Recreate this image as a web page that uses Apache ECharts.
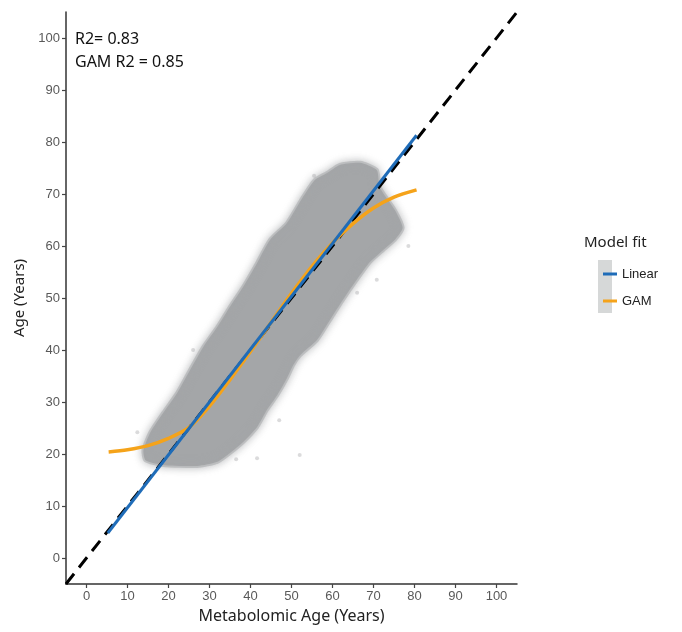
<!DOCTYPE html>
<html>
<head>
<meta charset="utf-8">
<script src="https://cdn.jsdelivr.net/npm/echarts@6/dist/echarts.min.js"></script>
<style>
  html, body { margin: 0; padding: 0; background: #ffffff; }
  #chart { width: 682px; height: 632px; }
</style>
</head>
<body>
<div id="chart"></div>
<script>
// tick labels on both axes
const tickValues = [0, 10, 20, 30, 40, 50, 60, 70, 80, 90, 100];

// outline of the dense point cloud (metabolomic age, age)
const cloudX = [58.6, 61.8, 66.7, 70.8, 71.5, 75.2, 77.1, 75.2, 72.3, 69.1, 65.9, 62.5, 59.4, 56.2, 52.1, 50.4,
  48.9, 46.5, 44.0, 41.6, 38.2, 35.0, 31.9, 27.0, 18.7, 14.4, 13.9, 15.6, 18.7, 22.1, 25.3, 28.5,
  31.9, 35.0, 38.2, 41.6, 44.8, 48.9, 52.8, 55.7];
const cloudY = [74.0, 75.6, 76.0, 74.6, 71.3, 66.9, 63.5, 61.2, 59.2, 56.9, 53.5, 49.6, 45.8, 41.9, 39.0, 37.1,
  34.6, 31.3, 28.5, 25.2, 22.3, 20.2, 18.5, 17.7, 17.9, 18.8, 20.8, 24.2, 27.9, 31.7, 36.2, 40.6,
  44.4, 48.3, 52.1, 56.7, 61.2, 64.4, 69.4, 72.7];

// a few stray points just outside the cloud
const strayX = [52.0, 41.6, 12.4, 70.8, 78.5, 47.0, 36.5, 26.0, 55.5, 66.0];
const strayY = [19.8, 19.2, 24.2, 53.5, 60.0, 26.5, 19.0, 40.0, 73.5, 51.0];

// fitted lines
const linearX = [5.2, 80.5];
const linearY = [4.8, 81.3];
const gamX = [5.4, 10, 15, 20, 25, 30, 35, 40, 45, 50, 55, 60, 65, 70, 75, 80.5];
const gamY = [20.4, 20.8, 21.6, 23.0, 25.1, 29.2, 34.3, 39.7, 45.3, 50.9, 56.1, 60.6, 64.3, 67.3, 69.4, 70.8];

// identity line
const refX = [-5, 105];
const refY = [-5, 105];

const zip = (xs, ys) => xs.map((x, i) => [x, ys[i]]);

const cloudColor = 'rgb(164,166,168)';

const chart = echarts.init(document.getElementById('chart'));

const axisCommon = {
  type: 'value',
  min: -5,
  max: 105,
  splitLine: { show: false },
  axisLine: { show: true, onZero: false, lineStyle: { color: '#333', width: 1.5 } },
  axisTick: { show: true, length: 4, customValues: tickValues, lineStyle: { color: '#444', width: 1.2 } },
  axisLabel: {
    customValues: tickValues,
    color: '#595959',
    fontSize: 13,
    fontFamily: 'Liberation Sans, Arial, sans-serif',
    margin: 6
  },
  nameLocation: 'middle',
  nameTextStyle: { color: '#222', fontSize: 16, fontFamily: 'Noto Sans, sans-serif' }
};

chart.setOption({
  animation: false,
  backgroundColor: '#ffffff',
  grid: { left: 66, right: 165, top: 12, bottom: 48 },
  xAxis: Object.assign({}, axisCommon, { name: 'Metabolomic Age (Years)', nameGap: 24 }),
  yAxis: Object.assign({}, axisCommon, { name: 'Age (Years)', nameGap: 36,
    nameTextStyle: { color: '#222', fontSize: 15, fontFamily: 'Noto Sans, sans-serif' } }),
  legend: {
    data: ['Linear', 'GAM'],
    orient: 'vertical',
    left: 598,
    top: 262,
    icon: 'rect',
    itemWidth: 14,
    itemHeight: 3,
    itemGap: 13,
    textStyle: { color: '#222', fontSize: 13, lineHeight: 14, fontFamily: 'Liberation Sans, Arial, sans-serif', padding: [0, 0, 0, 0] }
  },
  graphic: [
    { type: 'rect', left: 598, top: 260, z: -1, shape: { width: 14, height: 53 }, style: { fill: 'rgb(214,216,216)' } },
    { type: 'text', left: 584, top: 235, style: { text: 'Model fit', fill: '#222', font: '15px "Noto Sans", sans-serif' } },
    { type: 'text', left: 75, top: 31, style: { text: 'R2= 0.83', fill: '#111', font: '16px "Noto Sans", sans-serif' } },
    { type: 'text', left: 75, top: 54, style: { text: 'GAM R2 = 0.85', fill: '#111', font: '16px "Noto Sans", sans-serif' } }
  ],
  series: [
    {
      type: 'custom',
      name: 'cloud',
      silent: true,
      data: [[0, 0]],
      renderItem: function (params, api) {
        const pts = cloudX.map((x, i) => api.coord([x, cloudY[i]]));
        return {
          type: 'polygon',
          shape: { points: pts, smooth: 0.2 },
          style: {
            fill: cloudColor,
            stroke: 'rgba(164,166,168,0.5)',
            lineWidth: 4,
            shadowBlur: 8,
            shadowColor: 'rgba(164,166,168,0.9)'
          }
        };
      }
    },
    {
      type: 'scatter',
      name: 'stray',
      silent: true,
      symbolSize: 4,
      itemStyle: { color: 'rgba(164,166,168,0.5)' },
      data: zip(strayX, strayY)
    },
    {
      type: 'line',
      name: 'ref',
      silent: true,
      showSymbol: false,
      lineStyle: { color: '#000', width: 3, type: [13, 8] },
      data: zip(refX, refY)
    },
    {
      type: 'line',
      name: 'GAM',
      showSymbol: false,
      smooth: 0.3,
      color: '#f5a31a',
      lineStyle: { color: '#f5a31a', width: 3.5 },
      data: zip(gamX, gamY)
    },
    {
      type: 'line',
      name: 'Linear',
      showSymbol: false,
      color: '#1f6cb8',
      lineStyle: { color: '#1f6cb8', width: 3 },
      data: zip(linearX, linearY)
    }
  ]
});
</script>
</body>
</html>
